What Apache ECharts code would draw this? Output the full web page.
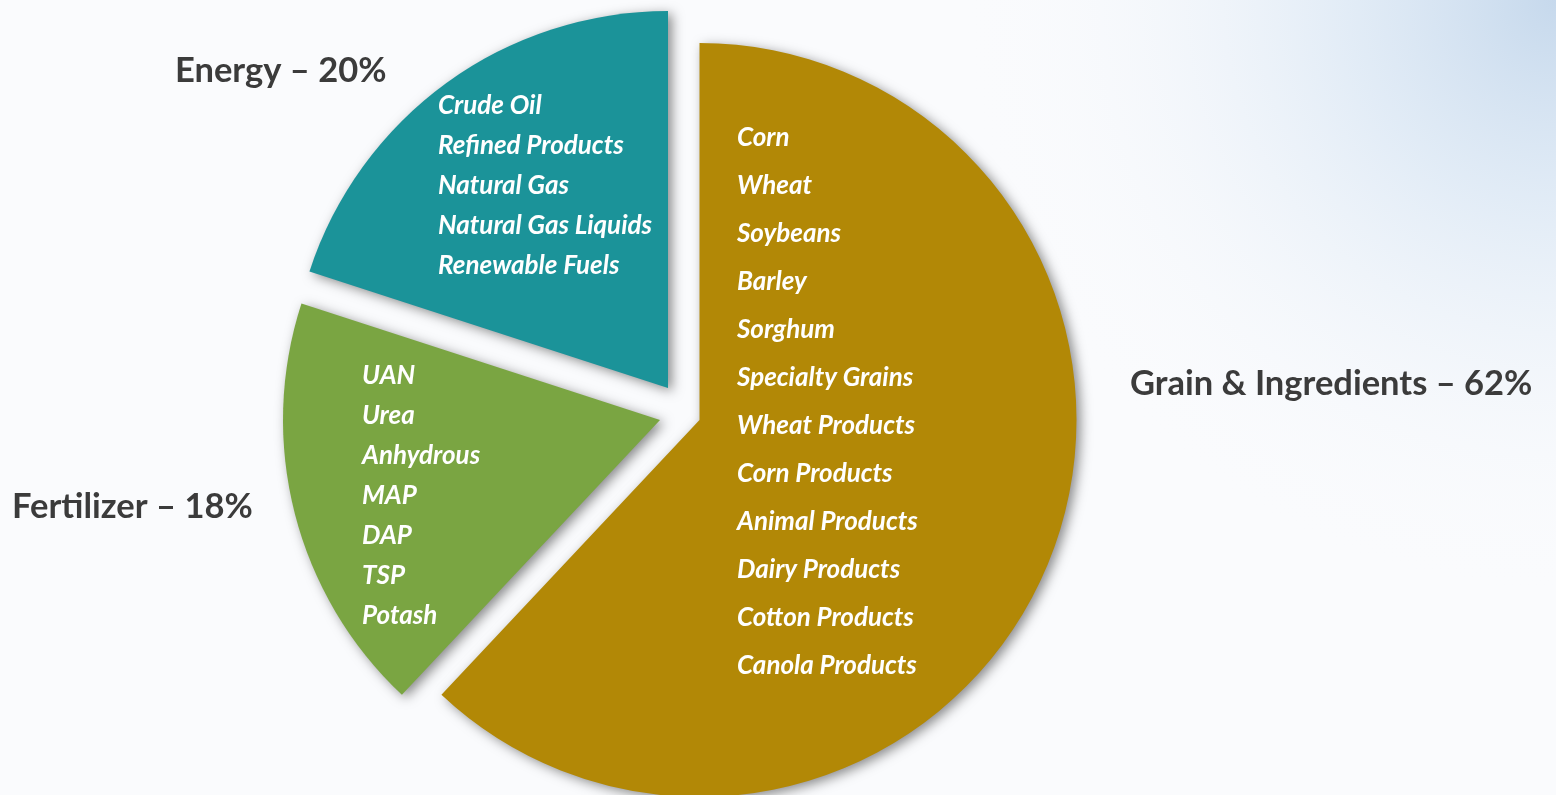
<!DOCTYPE html>
<html><head><meta charset="utf-8">
<script src="https://cdn.jsdelivr.net/npm/echarts@6/dist/echarts.min.js"></script>
<style>html,body{margin:0;padding:0;background:#fafbfd;} #c{width:1556px;height:795px;}</style>
</head><body><div id="c"></div>
<script>
// ---- data ----
const categories = ['Grain & Ingredients', 'Fertilizer', 'Energy'];
const values = [62, 18, 20];
const grainItems = ['Corn', 'Wheat', 'Soybeans', 'Barley', 'Sorghum', 'Specialty Grains', 'Wheat Products', 'Corn Products', 'Animal Products', 'Dairy Products', 'Cotton Products', 'Canola Products'];
const fertilizerItems = ['UAN', 'Urea', 'Anhydrous', 'MAP', 'DAP', 'TSP', 'Potash'];
const energyItems = ['Crude Oil', 'Refined Products', 'Natural Gas', 'Natural Gas Liquids', 'Renewable Fuels'];
const itemLists = [grainItems, fertilizerItems, energyItems];

// ---- layout & style ----
const colors = ['#B28806', '#7AA542', '#1B9399'];
const layout = [
  { center: [699.5, 420], listX: 737, listY: 402, lineHeight: 48, outerX: 1130, outerY: 384 },
  { center: [660, 420],   listX: 362, listY: 496, lineHeight: 40, outerX: 12,   outerY: 507 },
  { center: [668, 388],   listX: 438, listY: 186, lineHeight: 40, outerX: 175,  outerY: 71 }
];
const R = 377;

const chart = echarts.init(document.getElementById('c'), null, { renderer: 'canvas' });

const series = categories.map((_, i) => {
  const L = layout[i];
  return {
    type: 'pie',
    center: L.center,
    radius: R,
    startAngle: 90,
    clockwise: true,
    silent: true,
    animation: false,
    avoidLabelOverlap: false,
    z: 2 + i,
    data: categories.map((name, j) => ({
      name,
      value: values[j],
      itemStyle: j === i
        ? { color: colors[j], borderWidth: 0, shadowBlur: 12, shadowColor: 'rgba(0,0,0,0.45)', shadowOffsetX: 4, shadowOffsetY: 3 }
        : { color: 'rgba(0,0,0,0)', borderWidth: 0 },
      label: { show: j === i }
    })),
    label: {
      position: 'inside',
      formatter: () => itemLists[i].join('\n'),
      color: '#ffffff',
      fontFamily: 'Lato',
      fontStyle: 'italic',
      fontWeight: 'bold',
      fontSize: 26,
      lineHeight: L.lineHeight,
      align: 'left'
    },
    labelLine: { show: false },
    labelLayout: { x: L.listX, y: L.listY, align: 'left', verticalAlign: 'middle' }
  };
});

const graphics = [
  {
    type: 'rect', z: -10, silent: true,
    shape: { x: 0, y: 0, width: 1556, height: 795 },
    style: { fill: { type: 'radial', x: 1, y: 0, r: 0.75, colorStops: [
      { offset: 0, color: 'rgba(185,208,232,0.8)' },
      { offset: 0.35, color: 'rgba(210,226,242,0.6)' },
      { offset: 0.7, color: 'rgba(236,242,249,0.35)' },
      { offset: 1, color: 'rgba(250,251,253,0)' }
    ] } }
  }
].concat(categories.map((name, i) => ({
  type: 'text', z: 100, silent: true,
  x: layout[i].outerX, y: layout[i].outerY,
  style: {
    text: name + ' \u2013 ' + values[i] + '%',
    fill: '#3b3b3b',
    fontFamily: 'Lato',
    fontWeight: 'bold',
    fontSize: 34.5,
    align: 'left',
    verticalAlign: 'middle'
  }
})));

chart.setOption({
  backgroundColor: '#fafbfd',
  animation: false,
  graphic: graphics,
  series
});
</script>
</body></html>
